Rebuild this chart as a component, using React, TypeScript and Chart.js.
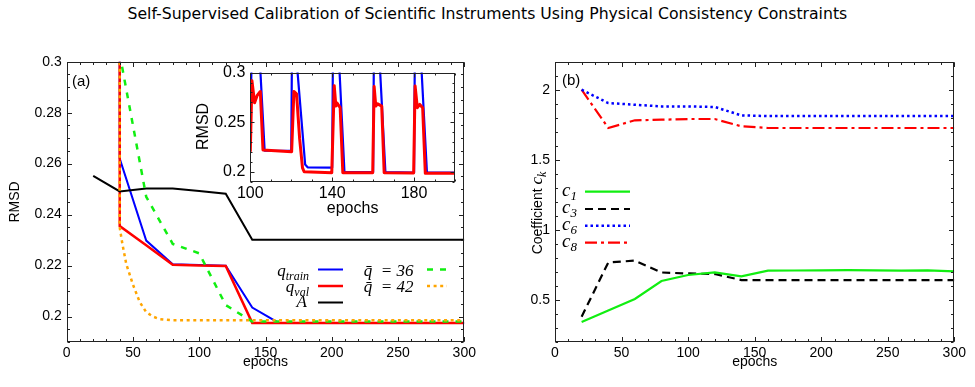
import React, { useEffect, useRef } from "react";
import { Chart, registerables } from "chart.js";

Chart.register(...registerables);

const SANS = '"Liberation Sans", Arial, Helvetica, sans-serif';
const SERIF = '"Liberation Serif", "Times New Roman", serif';

const TITLE =
  "Self-Supervised Calibration of Scientific Instruments Using Physical Consistency Constraints";

// ---------- panel (a): RMSD vs epochs ----------
const qTrainEpochs = [40, 40, 60, 80, 100, 120, 140, 160, 180, 200, 220, 240, 260, 280, 300];
const qTrainRmsd = [0.45, 0.262, 0.2298, 0.2205, 0.2202, 0.2199, 0.2035, 0.1975, 0.1975, 0.1975, 0.1975, 0.1975, 0.1975, 0.1975, 0.1975];

const qValEpochs = [40, 40, 60, 80, 100, 120, 140, 160, 180, 200, 220, 240, 260, 280, 300];
const qValRmsd = [0.45, 0.2355, 0.228, 0.2203, 0.22, 0.2198, 0.1975, 0.1975, 0.1975, 0.1975, 0.1975, 0.1975, 0.1975, 0.1975, 0.1975];

const aEpochs = [20, 40, 60, 80, 100, 120, 140, 160, 180, 200, 220, 240, 260, 280, 300];
const aRmsd = [0.2552, 0.2491, 0.2502, 0.2502, 0.2493, 0.2482, 0.2301, 0.2301, 0.2301, 0.2301, 0.2301, 0.2301, 0.2301, 0.2301, 0.2301];

const q36Epochs = [40, 60, 80, 100, 120, 140, 160, 180, 200, 220, 240, 260, 280, 300];
const q36Rmsd = [0.303, 0.247, 0.2285, 0.2248, 0.2045, 0.198, 0.198, 0.198, 0.198, 0.198, 0.198, 0.198, 0.198, 0.198];

const q42Epochs = [40, 40, 42, 45, 50, 55, 60, 65, 70, 80, 100, 150, 200, 250, 300];
const q42Rmsd = [0.45, 0.235, 0.2285, 0.2205, 0.2125, 0.2058, 0.2017, 0.2, 0.199, 0.1985, 0.1985, 0.1985, 0.1985, 0.1985, 0.1985];

// inset of panel (a)
const insetTrainEpochs = [100, 101, 104, 107, 120, 120.5, 122, 126.8, 128, 140, 140.5, 143, 146, 160, 160.5, 163, 166, 180, 180.5, 183, 186.3, 200];
const insetTrainRmsd = [0.236, 0.36, 0.337, 0.2215, 0.2213, 0.36, 0.3275, 0.2075, 0.2048, 0.2045, 0.36, 0.326, 0.2, 0.2, 0.36, 0.318, 0.2, 0.1995, 0.36, 0.328, 0.1995, 0.1995];

const insetValEpochs = [100, 100.8, 102.1, 103.3, 104.9, 106.2, 120.2, 121.3, 122.6, 124.1, 125.5, 126.3, 139.8, 141, 141.8, 142.3, 143.9, 145.2, 159.8, 160.5, 161.3, 162.2, 164.2, 165.4, 179.8, 180.5, 181.6, 182.8, 184.2, 185.5, 200];
const insetValRmsd = [0.2205, 0.2918, 0.2696, 0.2768, 0.281, 0.2222, 0.2205, 0.281, 0.2787, 0.2336, 0.2042, 0.2003, 0.1993, 0.2869, 0.2663, 0.2696, 0.2647, 0.1993, 0.1993, 0.286, 0.2663, 0.2686, 0.2663, 0.1993, 0.199, 0.2866, 0.2647, 0.268, 0.2647, 0.1987, 0.1987];

// ---------- panel (b): coefficients ----------
const coefEpochs = [20, 40, 60, 80, 100, 120, 140, 160, 180, 200, 220, 240, 260, 280, 300];
const c1Values = [0.343, 0.424, 0.507, 0.635, 0.678, 0.697, 0.668, 0.709, 0.71, 0.711, 0.713, 0.711, 0.709, 0.711, 0.704];
const c3Values = [0.38, 0.767, 0.781, 0.696, 0.689, 0.685, 0.642, 0.642, 0.642, 0.642, 0.642, 0.642, 0.642, 0.642, 0.642];
const c6Values = [2.0, 1.905, 1.893, 1.881, 1.881, 1.877, 1.817, 1.812, 1.812, 1.812, 1.812, 1.812, 1.812, 1.812, 1.812];
const c8Values = [2.0, 1.727, 1.782, 1.786, 1.791, 1.791, 1.739, 1.727, 1.727, 1.727, 1.727, 1.727, 1.727, 1.727, 1.727];

// ticks
const xTicksMain = [0, 50, 100, 150, 200, 250, 300];
const yTicksRmsd = [0.2, 0.22, 0.24, 0.26, 0.28, 0.3];
const yTicksCoef = [0.5, 1, 1.5, 2];
const xTicksInset = [100, 140, 180];
const yTicksInset = [0.2, 0.25, 0.3];

const GREEN = "#11ee11";

type Seg = { t: string; f: string; dy?: number };
type TextItem = { segs: Seg[]; x: number; y: number; align: "left" | "right" | "center"; rotate?: boolean };
type LegendItem = { segs: Seg[]; tx: number; ty: number; align: "left" | "right"; ds: number; x1: number; x2: number; y: number };
type DecorCfg = {
  xMinor: number;
  yMinor: number;
  major: number;
  minor: number;
  texts: TextItem[];
  legend: LegendItem[];
};

function pts(xs: number[], ys: number[]) {
  return xs.map((x, i) => ({ x, y: ys[i] }));
}

function drawRich(ctx: CanvasRenderingContext2D, segs: Seg[], x: number, y: number, align: string) {
  let w = 0;
  for (const s of segs) {
    ctx.font = s.f;
    w += ctx.measureText(s.t).width;
  }
  let cx = align === "left" ? x : align === "right" ? x - w : x - w / 2;
  ctx.textAlign = "left";
  ctx.textBaseline = "alphabetic";
  ctx.fillStyle = "#000";
  for (const s of segs) {
    ctx.font = s.f;
    ctx.fillText(s.t, cx, y + (s.dy || 0));
    cx += ctx.measureText(s.t).width;
  }
}

function minorVals(min: number, max: number, step: number) {
  const out: number[] = [];
  const a = Math.ceil(min / step - 1e-9);
  const b = Math.floor(max / step + 1e-9);
  for (let n = a; n <= b; n++) out.push(n * step);
  return out;
}

function makeDecor(cfg: DecorCfg) {
  return {
    id: "decor",
    afterDatasetsDraw(chart: any) {
      const ctx: CanvasRenderingContext2D = chart.ctx;
      const a = chart.chartArea;
      const xs = chart.scales.x;
      const ys = chart.scales.y;
      const L = Math.round(a.left) + 0.5;
      const R = Math.round(a.right) - 0.5;
      const T = Math.round(a.top) + 0.5;
      const B = Math.round(a.bottom) - 0.5;
      ctx.save();
      ctx.setLineDash([]);
      ctx.strokeStyle = "#222";
      ctx.lineWidth = 1;
      ctx.beginPath();
      const xt = (v: number, len: number) => {
        const p = Math.round(xs.getPixelForValue(v)) + 0.5;
        ctx.moveTo(p, B);
        ctx.lineTo(p, B - len);
        ctx.moveTo(p, T);
        ctx.lineTo(p, T + len);
      };
      const yt = (v: number, len: number) => {
        const p = Math.round(ys.getPixelForValue(v)) + 0.5;
        ctx.moveTo(L, p);
        ctx.lineTo(L + len, p);
        ctx.moveTo(R, p);
        ctx.lineTo(R - len, p);
      };
      minorVals(xs.min, xs.max, cfg.xMinor).forEach((v) => xt(v, cfg.minor));
      minorVals(ys.min, ys.max, cfg.yMinor).forEach((v) => yt(v, cfg.minor));
      xs.ticks.forEach((t: any) => xt(t.value, cfg.major));
      ys.ticks.forEach((t: any) => yt(t.value, cfg.major));
      ctx.stroke();
      ctx.strokeRect(L, T, R - L, B - T);

      for (const t of cfg.texts) {
        if (t.rotate) {
          ctx.save();
          ctx.translate(t.x, t.y);
          ctx.rotate(-Math.PI / 2);
          drawRich(ctx, t.segs, 0, 0, t.align);
          ctx.restore();
        } else {
          drawRich(ctx, t.segs, t.x, t.y, t.align);
        }
      }
      for (const it of cfg.legend) {
        drawRich(ctx, it.segs, it.tx, it.ty, it.align);
        const ds = chart.data.datasets[it.ds];
        ctx.save();
        ctx.strokeStyle = ds.borderColor;
        ctx.lineWidth = ds.borderWidth;
        ctx.setLineDash(ds.borderDash || []);
        ctx.beginPath();
        ctx.moveTo(it.x1, it.y);
        ctx.lineTo(it.x2, it.y);
        ctx.stroke();
        ctx.restore();
      }
      ctx.restore();
    },
  };
}

const fmt = (v: number) => String(Math.round(v * 1000) / 1000);

function linAxis(min: number, max: number, vals: number[], size: number, pad: number, fit: (s: any) => void) {
  return {
    type: "linear",
    min,
    max,
    grid: { display: false, drawTicks: false, tickLength: 0 },
    border: { display: false },
    afterBuildTicks: (s: any) => {
      s.ticks = vals.map((v) => ({ value: v }));
    },
    ticks: {
      color: "#000",
      font: { family: SANS, size },
      padding: pad,
      maxRotation: 0,
      minRotation: 0,
      autoSkip: false,
      callback: (v: any) => fmt(Number(v)),
    },
    afterFit: fit,
  };
}

const lineBase = { pointRadius: 0, fill: false, tension: 0, borderJoinStyle: "miter" };

const it = (px: number) => `italic ${px}px ${SERIF}`;
const sans = (px: number) => `${px}px ${SANS}`;

export default function App() {
  const leftRef = useRef<HTMLCanvasElement>(null);
  const rightRef = useRef<HTMLCanvasElement>(null);
  const insetRef = useRef<HTMLCanvasElement>(null);
  const titleRef = useRef<HTMLSpanElement>(null);

  useEffect(() => {
    const el = titleRef.current;
    if (el) {
      const w = el.offsetWidth;
      if (w > 0) el.style.transform = `scaleX(${720 / w})`;
    }
  }, []);

  useEffect(() => {
    const charts: Chart[] = [];

    // ----- left panel -----
    const leftCfg: DecorCfg = {
      xMinor: 10,
      yMinor: 0.005,
      major: 4.5,
      minor: 2.5,
      texts: [
        { segs: [{ t: "(a)", f: sans(15) }], x: 72, y: 86, align: "left" },
        { segs: [{ t: "RMSD", f: sans(14) }], x: 19, y: 202, align: "center", rotate: true },
        { segs: [{ t: "epochs", f: sans(14) }], x: 265.5, y: 366, align: "center" },
      ],
      legend: [
        { segs: [{ t: "q", f: it(17) }, { t: "train", f: it(12), dy: 4 }], tx: 309, ty: 275.5, align: "right", ds: 0, x1: 318, x2: 343, y: 269.5 },
        { segs: [{ t: "q", f: it(17) }, { t: "val", f: it(12), dy: 4 }], tx: 309, ty: 292, align: "right", ds: 1, x1: 318, x2: 343, y: 286 },
        { segs: [{ t: "A", f: it(17) }], tx: 307, ty: 307, align: "right", ds: 2, x1: 318, x2: 343, y: 302.5 },
        { segs: [{ t: "q\u0304", f: it(17) }, { t: "  = 36", f: it(17) }], tx: 413.5, ty: 275.5, align: "right", ds: 3, x1: 427, x2: 447, y: 269.5 },
        { segs: [{ t: "q\u0304", f: it(17) }, { t: "  = 42", f: it(17) }], tx: 413.5, ty: 292, align: "right", ds: 4, x1: 427, x2: 447, y: 286 },
      ],
    };
    if (leftRef.current) {
      charts.push(
        new Chart(leftRef.current, {
          type: "line",
          data: {
            datasets: [
              { ...lineBase, label: "q_train", data: pts(qTrainEpochs, qTrainRmsd), borderColor: "#0000ff", borderWidth: 2, order: 5 },
              { ...lineBase, label: "q_val", data: pts(qValEpochs, qValRmsd), borderColor: "#ff0000", borderWidth: 2.5, order: 4 },
              { ...lineBase, label: "A", data: pts(aEpochs, aRmsd), borderColor: "#000000", borderWidth: 2, order: 3 },
              { ...lineBase, label: "q36", data: pts(q36Epochs, q36Rmsd), borderColor: GREEN, borderWidth: 2.5, borderDash: [6, 7], order: 2 },
              { ...lineBase, label: "q42", data: pts(q42Epochs, q42Rmsd), borderColor: "#ffa500", borderWidth: 2.5, borderDash: [3, 3.6], order: 1 },
            ] as any,
          },
          options: {
            responsive: false,
            animation: false,
            devicePixelRatio: 1,
            events: [],
            layout: { padding: { top: 61.7, right: 25.7, bottom: 0, left: 0 } },
            plugins: { legend: { display: false }, tooltip: { enabled: false }, title: { display: false } },
            scales: {
              x: linAxis(0, 300, xTicksMain, 14, 3, (s) => { s.height = 45; }),
              y: linAxis(0.19, 0.3, yTicksRmsd, 14, 5, (s) => { s.width = 66.7; }),
            } as any,
          },
          plugins: [makeDecor(leftCfg)],
        })
      );
    }

    // ----- inset -----
    const insetCfg: DecorCfg = {
      xMinor: 10,
      yMinor: 0.01,
      major: 4,
      minor: 2,
      texts: [
        { segs: [{ t: "RMSD", f: sans(16) }], x: 22.7, y: 68.4, align: "center", rotate: true },
        { segs: [{ t: "epochs", f: sans(16) }], x: 167.6, y: 154.5, align: "center" },
      ],
      legend: [],
    };
    if (insetRef.current) {
      charts.push(
        new Chart(insetRef.current, {
          type: "line",
          data: {
            datasets: [
              { ...lineBase, borderJoinStyle: "round", label: "train", data: pts(insetTrainEpochs, insetTrainRmsd), borderColor: "#0000ff", borderWidth: 2.2, order: 2 },
              { ...lineBase, borderJoinStyle: "round", label: "val", data: pts(insetValEpochs, insetValRmsd), borderColor: "#ff0000", borderWidth: 3, order: 1 },
            ] as any,
          },
          options: {
            responsive: false,
            animation: false,
            devicePixelRatio: 1,
            events: [],
            layout: { padding: { top: 12.7, right: 7, bottom: 0, left: 0 } },
            plugins: { legend: { display: false }, tooltip: { enabled: false }, title: { display: false } },
            scales: {
              x: linAxis(100, 200, xTicksInset, 16, 2, (s) => { s.height = 38; }),
              y: linAxis(0.19, 0.3, yTicksInset, 16, 5, (s) => { s.width = 65.3; }),
            } as any,
          },
          plugins: [makeDecor(insetCfg)],
        })
      );
    }

    // ----- right panel -----
    const rightCfg: DecorCfg = {
      xMinor: 10,
      yMinor: 0.1,
      major: 4.5,
      minor: 2.5,
      texts: [
        { segs: [{ t: "(b)", f: sans(15) }], x: 72, y: 85, align: "left" },
        {
          segs: [
            { t: "Coefficient ", f: sans(14) },
            { t: "c", f: it(17) },
            { t: "k", f: it(12), dy: 4 },
          ],
          x: 52,
          y: 213,
          align: "center",
          rotate: true,
        },
        { segs: [{ t: "epochs", f: sans(14) }], x: 264.7, y: 366, align: "center" },
      ],
      legend: [
        { segs: [{ t: "c", f: it(19) }, { t: "1", f: it(13), dy: 4 }], tx: 72, ty: 196, align: "left", ds: 0, x1: 95, x2: 140, y: 191.7 },
        { segs: [{ t: "c", f: it(19) }, { t: "3", f: it(13), dy: 4 }], tx: 72, ty: 213, align: "left", ds: 1, x1: 95, x2: 140, y: 209 },
        { segs: [{ t: "c", f: it(19) }, { t: "6", f: it(13), dy: 4 }], tx: 72, ty: 229.7, align: "left", ds: 2, x1: 95, x2: 140, y: 225.7 },
        { segs: [{ t: "c", f: it(19) }, { t: "8", f: it(13), dy: 4 }], tx: 72, ty: 246.7, align: "left", ds: 3, x1: 95, x2: 140, y: 242.7 },
      ],
    };
    if (rightRef.current) {
      charts.push(
        new Chart(rightRef.current, {
          type: "line",
          data: {
            datasets: [
              { ...lineBase, label: "c1", data: pts(coefEpochs, c1Values), borderColor: GREEN, borderWidth: 2.2 },
              { ...lineBase, label: "c3", data: pts(coefEpochs, c3Values), borderColor: "#000000", borderWidth: 2.2, borderDash: [8, 5] },
              { ...lineBase, label: "c6", data: pts(coefEpochs, c6Values), borderColor: "#0000ff", borderWidth: 2.5, borderDash: [2.5, 3] },
              { ...lineBase, label: "c8", data: pts(coefEpochs, c8Values), borderColor: "#ff0000", borderWidth: 2.2, borderDash: [12, 4, 3, 4] },
            ] as any,
          },
          options: {
            responsive: false,
            animation: false,
            devicePixelRatio: 1,
            events: [],
            layout: { padding: { top: 61.7, right: 20.7, bottom: 0, left: 0 } },
            plugins: { legend: { display: false }, tooltip: { enabled: false }, title: { display: false } },
            scales: {
              x: linAxis(0, 300, xTicksMain, 14, 3, (s) => { s.height = 45; }),
              y: linAxis(0.2, 2.2, yTicksCoef, 14, 5, (s) => { s.width = 65; }),
            } as any,
          },
          plugins: [makeDecor(rightCfg)],
        })
      );
    }

    return () => {
      charts.forEach((c) => c.destroy());
    };
  }, []);

  return (
    <div style={{ position: "fixed", left: 0, top: 0, width: 975, height: 387, background: "#fff", overflow: "hidden" }}>
      <div style={{ position: "absolute", left: 0, top: 4, width: 975, textAlign: "center", lineHeight: "20px" }}>
        <span
          ref={titleRef}
          style={{
            display: "inline-block",
            whiteSpace: "nowrap",
            fontFamily: '"Liberation Sans Narrow", "DejaVu Sans Condensed", Lato, sans-serif',
            fontSize: 16,
            color: "#000",
            transformOrigin: "center",
          }}
        >
          {TITLE}
        </span>
      </div>
      <canvas ref={leftRef} width={490} height={387} style={{ position: "absolute", left: 0, top: 0, width: 490, height: 387 }} />
      <canvas ref={rightRef} width={485} height={387} style={{ position: "absolute", left: 490, top: 0, width: 485, height: 387 }} />
      <canvas ref={insetRef} width={277} height={162} style={{ position: "absolute", left: 185, top: 58, width: 277, height: 162 }} />
    </div>
  );
}
